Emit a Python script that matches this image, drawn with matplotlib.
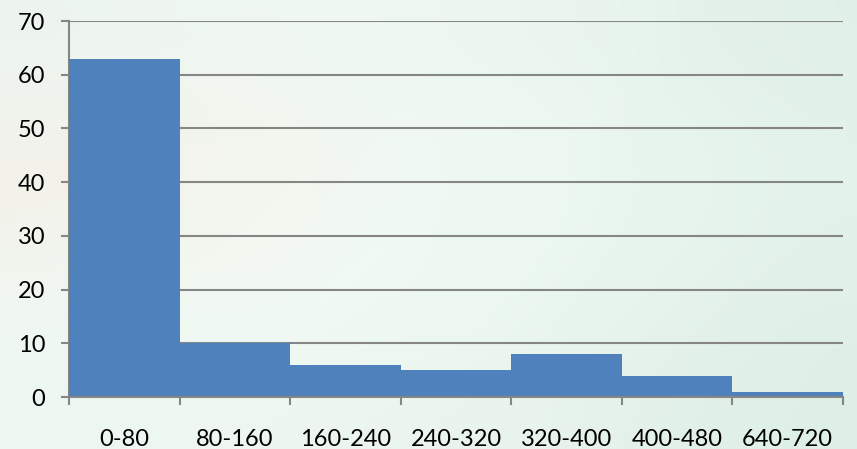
import numpy as np
import matplotlib
matplotlib.use("Agg")
import matplotlib.pyplot as plt

plt.rcParams['font.family'] = ['Lato', 'DejaVu Sans']

# Histogram bins and counts
categories = ["0-80", "80-160", "160-240", "240-320", "320-400", "400-480", "640-720"]
counts = [63, 10, 6, 5, 8, 4, 1]
y_ticks = [0, 10, 20, 30, 40, 50, 60, 70]

bar_color = "#4F81BD"
grid_color = "#868686"

fig = plt.figure(figsize=(8.57, 4.49), dpi=100)

# Soft mint backdrop behind the chart
bg = fig.add_axes([0, 0, 1, 1], zorder=-10)
bg.axis("off")
palette = np.array([
    [[0.93, 0.96, 0.94], [0.94, 0.97, 0.95], [0.93, 0.97, 0.95], [0.92, 0.96, 0.94], [0.88, 0.94, 0.91]],
    [[0.95, 0.95, 0.92], [0.95, 0.96, 0.93], [0.94, 0.98, 0.95], [0.92, 0.97, 0.94], [0.89, 0.95, 0.92]],
    [[0.95, 0.95, 0.92], [0.96, 0.97, 0.94], [0.94, 0.98, 0.96], [0.92, 0.97, 0.94], [0.89, 0.95, 0.92]],
    [[0.94, 0.97, 0.95], [0.95, 0.98, 0.96], [0.93, 0.98, 0.95], [0.91, 0.96, 0.93], [0.88, 0.94, 0.91]],
    [[0.93, 0.97, 0.95], [0.93, 0.97, 0.94], [0.92, 0.96, 0.93], [0.90, 0.95, 0.92], [0.87, 0.94, 0.90]],
])
bg.imshow(palette, extent=[0, 1, 0, 1], aspect="auto", interpolation="bicubic")
bg.set_xlim(0, 1)
bg.set_ylim(0, 1)

ax = fig.add_axes([69 / 857, 1 - 397 / 449, (843 - 69) / 857, (397 - 21) / 449])
ax.patch.set_alpha(0)

x = np.arange(len(categories))
ax.bar(x, counts, width=1.0, color=bar_color, align="center", zorder=3, linewidth=0)

ax.set_xlim(-0.5, len(categories) - 0.5)
ax.set_ylim(0, 70)
ax.set_yticks(y_ticks)
ax.yaxis.grid(True, color=grid_color, linewidth=1.5, zorder=0)
ax.set_axisbelow(True)

ax.set_xticks(x)
ax.set_xticklabels(categories)
ax.set_xticks(np.arange(len(categories) + 1) - 0.5, minor=True)
ax.tick_params(axis="x", which="major", length=0, pad=23, labelsize=17)
ax.tick_params(axis="x", which="minor", length=6, width=1.5, color=grid_color, direction="out")
ax.tick_params(axis="y", length=6, width=1.5, color=grid_color, labelsize=17, pad=11)

for side in ("top", "right"):
    ax.spines[side].set_visible(False)
for side in ("left", "bottom"):
    ax.spines[side].set_color(grid_color)
    ax.spines[side].set_linewidth(1.5)
ax.spines["bottom"].set_zorder(4)

fig.savefig("out.png", dpi=100)
